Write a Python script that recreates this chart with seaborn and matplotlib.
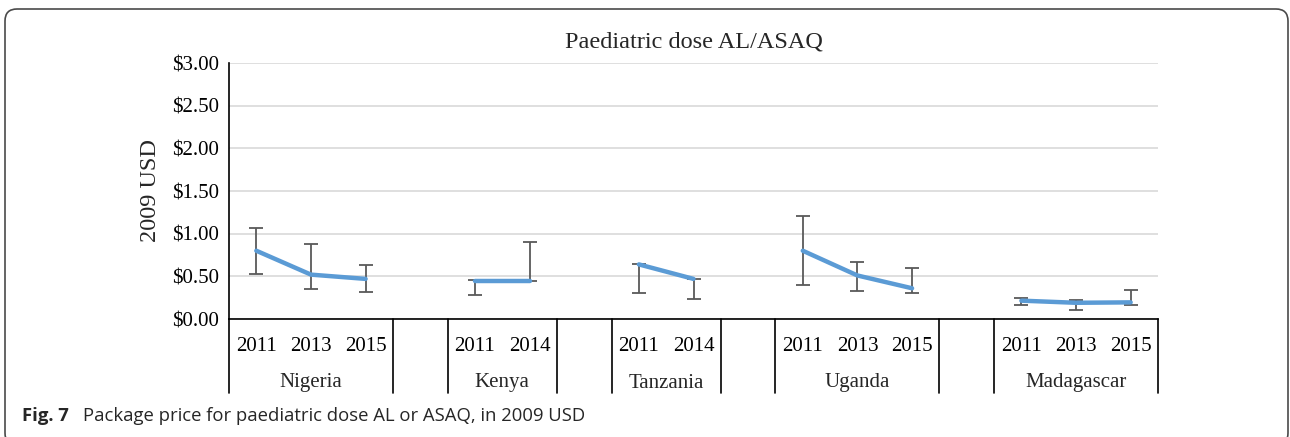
import numpy as np
import pandas as pd
import matplotlib
matplotlib.use("Agg")
import matplotlib.pyplot as plt
import matplotlib.patches as mpatches
import matplotlib.transforms as mtransforms
import seaborn as sns

# Data (2009 USD)
countries = ["Nigeria", "Kenya", "Tanzania", "Uganda", "Madagascar"]
years = [["2011", "2013", "2015"], ["2011", "2014"], ["2011", "2014"],
         ["2011", "2013", "2015"], ["2011", "2013", "2015"]]
price = [[0.80, 0.52, 0.47], [0.45, 0.45], [0.64, 0.47],
         [0.80, 0.51, 0.36], [0.215, 0.19, 0.195]]
price_high = [[1.07, 0.875, 0.63], [0.46, 0.905], [0.64, 0.47],
              [1.21, 0.67, 0.60], [0.25, 0.22, 0.335]]
price_low = [[0.53, 0.35, 0.32], [0.285, 0.45], [0.31, 0.235],
             [0.40, 0.33, 0.30], [0.165, 0.11, 0.165]]

# build long table, one empty slot between countries
rows = []
slot = 0
group_edges = []
for c, yrs, p, hi, lo in zip(countries, years, price, price_high, price_low):
    start = slot
    for yr, v, h, l in zip(yrs, p, hi, lo):
        rows.append({"country": c, "year": yr, "pos": slot, "price": v,
                     "high": h, "low": l})
        slot += 1
    group_edges.append((start, slot - 1))
    slot += 1
df = pd.DataFrame(rows)
n_slots = slot - 1

sns.set_theme(style="white")
plt.rcParams["font.family"] = ["Liberation Serif", "DejaVu Serif"]

fig = plt.figure(figsize=(12.9, 4.37), dpi=100)
ax = fig.add_axes([229 / 1290, 1 - 319 / 437, (1158 - 229) / 1290, 256 / 437])

sns.lineplot(data=df, x="pos", y="price", units="country", estimator=None,
             sort=False, color="#5B9BD5", lw=3.2, ax=ax, legend=False,
             solid_capstyle="round")
ax.errorbar(df["pos"], df["price"],
            yerr=[df["price"] - df["low"], df["high"] - df["price"]],
            fmt="none", ecolor="#595959", elinewidth=1.3, capsize=5,
            capthick=1.3, zorder=1)

ax.set_xlim(-0.5, n_slots - 0.5)
ax.set_ylim(0, 3)
ax.set_yticks(np.arange(0, 3.01, 0.5))
ax.set_yticklabels([f"${v:.2f}" for v in np.arange(0, 3.01, 0.5)])
ax.yaxis.grid(True, color="#D9D9D9", lw=1.2)
ax.set_axisbelow(True)
ax.tick_params(axis="y", length=0, pad=7, labelsize=15, colors="black")
ax.set_ylabel("2009 USD", fontsize=17.5, labelpad=8)
ax.set_xlabel("")

ax.set_xticks(df["pos"])
ax.set_xticklabels(df["year"])
ax.tick_params(axis="x", length=0, pad=13, labelsize=15, colors="black")

for s in ["top", "right"]:
    ax.spines[s].set_visible(False)
for s in ["left", "bottom"]:
    ax.spines[s].set_color("black")
    ax.spines[s].set_linewidth(1.2)

# multi-level category table under the axis
trans = ax.get_xaxis_transform()
line_bottom = -(393 - 319) / 256
edges = set()
for (a, b), c in zip(group_edges, countries):
    edges.add(a - 0.5)
    edges.add(b + 0.5)
    edges.add(b + 1.5)
    ax.text((a + b) / 2, -(383 - 319) / 256, c, transform=trans,
            ha="center", va="center", fontsize=15)
for e in sorted(edges):
    if e > n_slots - 0.5:
        continue
    ax.plot([e, e], [0, line_bottom], transform=trans, color="black",
            lw=1.2, clip_on=False)

ax.set_title("Paediatric dose AL/ASAQ", fontsize=17.5, pad=11)

# caption and frame
fig.text(22 / 1290, 1 - 416 / 437, "Fig. 7", fontsize=13.3, weight="bold",
         family="Open Sans", va="center", ha="left")
fig.text(83 / 1290, 1 - 416 / 437,
         "Package price for paediatric dose AL or ASAQ, in 2009 USD",
         fontsize=13.3, family="Open Sans", va="center", ha="left")
frame = mpatches.FancyBboxPatch((5, -8), 1283, 436,
                                boxstyle="round,pad=0,rounding_size=12",
                                transform=mtransforms.IdentityTransform(),
                                fill=False, edgecolor="#4a4a4a", lw=1.2)
fig.patches.append(frame)

fig.savefig("out.png", dpi=100)
